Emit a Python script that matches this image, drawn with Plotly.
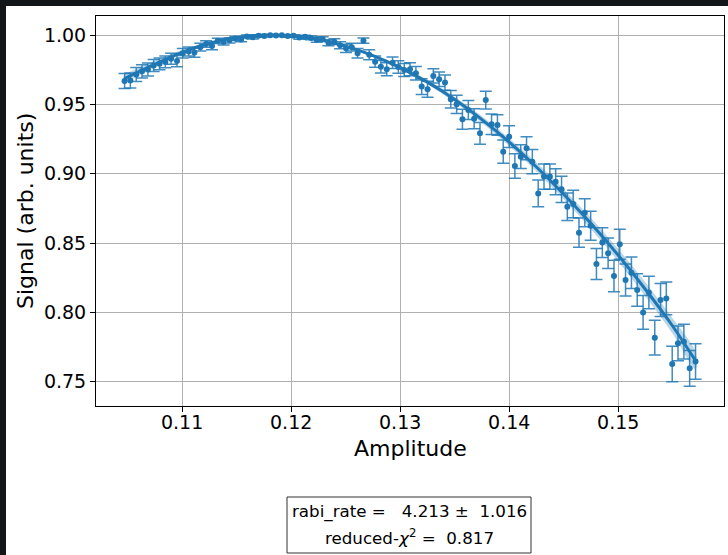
import plotly.graph_objects as go

# Drive amplitude sweep (pi/30 .. pi/20)
amplitudes = [
    0.10472, 0.10525, 0.10579, 0.10632, 0.10686, 0.10739, 0.10793, 0.10846, 0.10899, 0.10953,
    0.11006, 0.11060, 0.11113, 0.11167, 0.11220, 0.11274, 0.11327, 0.11380, 0.11434, 0.11487,
    0.11541, 0.11594, 0.11648, 0.11701, 0.11754, 0.11808, 0.11861, 0.11915, 0.11968, 0.12022,
    0.12075, 0.12128, 0.12182, 0.12235, 0.12289, 0.12342, 0.12396, 0.12449, 0.12503, 0.12556,
    0.12609, 0.12663, 0.12716, 0.12770, 0.12823, 0.12877, 0.12930, 0.12983, 0.13037, 0.13090,
    0.13144, 0.13197, 0.13251, 0.13304, 0.13357, 0.13411, 0.13464, 0.13518, 0.13571, 0.13625,
    0.13678, 0.13732, 0.13785, 0.13838, 0.13892, 0.13945, 0.13999, 0.14052, 0.14106, 0.14159,
    0.14212, 0.14266, 0.14319, 0.14373, 0.14426, 0.14480, 0.14533, 0.14587, 0.14640, 0.14693,
    0.14747, 0.14800, 0.14854, 0.14907, 0.14961, 0.15014, 0.15067, 0.15121, 0.15174, 0.15228,
    0.15281, 0.15335, 0.15388, 0.15441, 0.15495, 0.15548, 0.15602, 0.15655, 0.15709,
]

# Measured signal per amplitude
signal = [
    0.9668, 0.9672, 0.9715, 0.9738, 0.9752, 0.9780, 0.9792, 0.9806, 0.9829, 0.9812,
    0.9868, 0.9881, 0.9873, 0.9912, 0.9935, 0.9921, 0.9958, 0.9949, 0.9962, 0.9975,
    0.9968, 0.9990, 0.9984, 0.9995, 0.9993, 0.9998, 0.9996, 0.9999, 0.9992, 0.9995,
    0.9982, 0.9988, 0.9979, 0.9966, 0.9971, 0.9944, 0.9952, 0.9926, 0.9904, 0.9912,
    0.9868, 0.9959, 0.9858, 0.9808, 0.9771, 0.9753, 0.9800, 0.9770, 0.9748, 0.9753,
    0.9724, 0.9628, 0.9609, 0.9705, 0.9681, 0.9657, 0.9537, 0.9500, 0.9392, 0.9459,
    0.9396, 0.9291, 0.9531, 0.9357, 0.9351, 0.9159, 0.9267, 0.9055, 0.9123, 0.9183,
    0.9087, 0.8858, 0.8979, 0.8979, 0.8942, 0.8887, 0.8762, 0.8781, 0.8575, 0.8719,
    0.8625, 0.8349, 0.8503, 0.8426, 0.8262, 0.8491, 0.8234, 0.8286, 0.8161, 0.8000,
    0.8144, 0.7818, 0.8089, 0.8101, 0.7628, 0.7777, 0.7789, 0.7597, 0.7645,
]

# One-sigma uncertainty of each point
signal_err = [
    0.0054, 0.0054, 0.0050, 0.0048, 0.0047, 0.0044, 0.0043, 0.0042, 0.0039, 0.0041,
    0.0034, 0.0033, 0.0034, 0.0028, 0.0024, 0.0027, 0.0019, 0.0021, 0.0019, 0.0015,
    0.0017, 0.0010, 0.0012, 0.0007, 0.0008, 0.0004, 0.0006, 0.0003, 0.0008, 0.0007,
    0.0013, 0.0010, 0.0014, 0.0018, 0.0016, 0.0022, 0.0021, 0.0026, 0.0030, 0.0028,
    0.0034, 0.0019, 0.0036, 0.0041, 0.0045, 0.0047, 0.0042, 0.0045, 0.0047, 0.0047,
    0.0049, 0.0057, 0.0058, 0.0051, 0.0053, 0.0055, 0.0063, 0.0066, 0.0072, 0.0068,
    0.0072, 0.0078, 0.0064, 0.0074, 0.0074, 0.0084, 0.0079, 0.0088, 0.0085, 0.0083,
    0.0087, 0.0096, 0.0091, 0.0091, 0.0093, 0.0095, 0.0099, 0.0099, 0.0105, 0.0101,
    0.0104, 0.0112, 0.0108, 0.0110, 0.0114, 0.0108, 0.0115, 0.0114, 0.0117, 0.0121,
    0.0117, 0.0125, 0.0119, 0.0118, 0.0128, 0.0125, 0.0125, 0.0129, 0.0128,
]

# Fitted curve and its confidence half-width
fit_amp = [0.1047, 0.1075, 0.1100, 0.1125, 0.1150, 0.1175, 0.1200, 0.1225, 0.1250, 0.1275, 0.1300,
           0.1325, 0.1350, 0.1375, 0.1400, 0.1425, 0.1450, 0.1475, 0.1500, 0.1525, 0.1550, 0.1571]
fit_val = [0.9685, 0.9790, 0.9875, 0.9940, 0.9982, 1.0000, 0.9995, 0.9968, 0.9920, 0.9852, 0.9765,
           0.9660, 0.9535, 0.9390, 0.9228, 0.9048, 0.8852, 0.8640, 0.8412, 0.8165, 0.7900, 0.7650]
fit_band = [0.0032, 0.0024, 0.0016, 0.0010, 0.0007, 0.0006, 0.0006, 0.0007, 0.0008, 0.0010, 0.0013,
            0.0016, 0.0020, 0.0024, 0.0028, 0.0032, 0.0036, 0.0040, 0.0045, 0.0050, 0.0055, 0.0060]

rabi_rate, rabi_rate_err, red_chi2 = 4.213, 1.016, 0.817

BLUE = "#1f77b4"
FONT = "DejaVu Sans"

fig = go.Figure()

fig.add_trace(go.Scatter(
    x=amplitudes, y=signal, mode="markers",
    marker=dict(color=BLUE, size=6),
    error_y=dict(type="data", array=signal_err, visible=True,
                 color="rgba(31,119,180,0.85)", thickness=1.5, width=6),
    showlegend=False,
))

upper = [v + b for v, b in zip(fit_val, fit_band)]
lower = [v - b for v, b in zip(fit_val, fit_band)]
fig.add_trace(go.Scatter(
    x=fit_amp + fit_amp[::-1], y=upper + lower[::-1],
    fill="toself", fillcolor="rgba(31,119,180,0.3)",
    line=dict(width=0, shape="spline"), mode="lines",
    hoverinfo="skip", showlegend=False,
))
fig.add_trace(go.Scatter(
    x=fit_amp, y=fit_val, mode="lines",
    line=dict(color=BLUE, width=3, shape="spline"),
    showlegend=False,
))

# plot area in pixels: x 96..724, y 16..406
W, H = 728, 555
L, R, T, B = 96, 4, 16, 149
pw, ph = W - L - R, H - T - B


def px(x):
    return (x - L) / pw


def py(y):
    return (H - B - y) / ph


axis_common = dict(
    showline=True, mirror=True, linecolor="black", linewidth=1,
    ticks="outside", ticklen=5, tickwidth=1, tickcolor="black",
    showgrid=True, gridcolor="#b0b0b0", gridwidth=1,
    zeroline=False, tickfont=dict(family=FONT, size=19, color="black"),
    tickformat=".2f",
)

fig.update_layout(
    width=W, height=H,
    margin=dict(l=L, r=R, t=T, b=B),
    paper_bgcolor="white", plot_bgcolor="white",
    xaxis=dict(range=[0.1021, 0.1597], tickvals=[0.11, 0.12, 0.13, 0.14, 0.15],
               ticklabelstandoff=-6, **axis_common),
    yaxis=dict(range=[0.7325, 1.0137], tickvals=[0.75, 0.80, 0.85, 0.90, 0.95, 1.00], **axis_common),
    font=dict(family=FONT, color="black"),
)

shapes = [
    # dark window frame on the top and left edges
    dict(type="rect", xref="paper", yref="paper", x0=px(0), x1=px(W), y0=py(6), y1=py(0),
         fillcolor="#121619", line=dict(width=0), layer="above"),
    dict(type="rect", xref="paper", yref="paper", x0=px(0), x1=px(6), y0=py(H), y1=py(0),
         fillcolor="#121619", line=dict(width=0), layer="above"),
    # fit report box
    dict(type="rect", xref="paper", yref="paper", x0=px(287), x1=px(531), y0=py(553), y1=py(497),
         fillcolor="white", line=dict(color="#333333", width=1)),
]

annotations = [
    dict(text="Amplitude", xref="paper", yref="paper", x=px(410), y=py(448),
         showarrow=False, xanchor="center", yanchor="middle",
         font=dict(family=FONT, size=22, color="black")),
    dict(text="Signal (arb. units)", xref="paper", yref="paper", x=px(25), y=py(211),
         showarrow=False, xanchor="center", yanchor="middle", textangle=-90,
         font=dict(family=FONT, size=22, color="black")),
    dict(text=f"rabi_rate =\u00a0\u00a0 {rabi_rate:.3f} \u00b1\u00a0 {rabi_rate_err:.3f}",
         xref="paper", yref="paper", x=px(409), y=py(512),
         showarrow=False, xanchor="center", yanchor="middle",
         font=dict(family=FONT, size=16.7, color="black")),
    dict(text=f"reduced-<i>\u03c7</i><sup>2</sup> =\u00a0 {red_chi2:.3f}",
         xref="paper", yref="paper", x=px(409), y=py(537),
         showarrow=False, xanchor="center", yanchor="middle",
         font=dict(family=FONT, size=16.7, color="black")),
]

fig.update_layout(shapes=shapes, annotations=annotations)

fig.write_html("out.html")
